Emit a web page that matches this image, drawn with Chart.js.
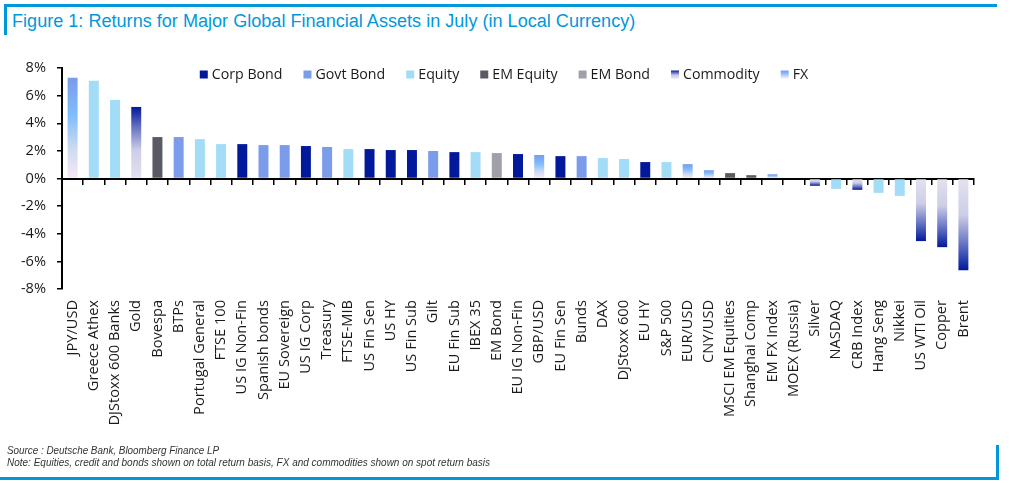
<!DOCTYPE html>
<html><head><meta charset="utf-8">
<script src="https://cdn.jsdelivr.net/npm/chart.js@4"></script>
<style>
html,body{margin:0;padding:0;background:#fff;}
#wrap{position:relative;width:1010px;height:483px;overflow:hidden;background:#fff;}
.ln{position:absolute;background:#0098DB;}
#title{position:absolute;left:12px;top:11px;font-family:"Liberation Sans Narrow","Arial Narrow","Liberation Sans",Arial,sans-serif;font-size:18px;line-height:20px;color:#0098DB;white-space:nowrap;transform-origin:0 0;}
.foot{position:absolute;left:7px;font-family:"Liberation Sans Narrow","Arial Narrow","Liberation Sans",Arial,sans-serif;font-style:italic;font-size:10px;line-height:12px;color:#333;white-space:nowrap;transform-origin:0 0;}
canvas{position:absolute;left:0;top:0;}
</style></head>
<body>
<div id="wrap">
  <div class="ln" style="left:4px;top:4px;width:993px;height:3px;"></div>
  <div class="ln" style="left:4px;top:4px;width:3px;height:31px;"></div>
  <div class="ln" style="left:0px;top:477px;width:999px;height:3px;"></div>
  <div class="ln" style="left:996px;top:445px;width:3px;height:35px;"></div>
  <div id="title">Figure 1: Returns for Major Global Financial Assets in July (in Local Currency)</div>
  <canvas id="c" width="1010" height="483"></canvas>
  <div class="foot" id="f1" style="top:445px;">Source : Deutsche Bank, Bloomberg Finance LP</div>
  <div class="foot" id="f2" style="top:457px;">Note: Equities, credit and bonds shown on total return basis, FX and commodities shown on spot return basis</div>
</div>
<script>
// ---- Data ----
const categories = ["JPY/USD","Greece Athex","DJStoxx 600 Banks","Gold","Bovespa","BTPs","Portugal General","FTSE 100","US IG Non-Fin","Spanish bonds","EU Sovereign","US IG Corp","Treasury","FTSE-MIB","US Fin Sen","US HY","US Fin Sub","Gilt","EU Fin Sub","IBEX 35","EM Bond","EU IG Non-Fin","GBP/USD","EU Fin Sen","Bunds","DAX","DJStoxx 600","EU HY","S&P 500","EUR/USD","CNY/USD","MSCI EM Equities","Shanghai Comp","EM FX Index","MOEX (Russia)","Silver","NASDAQ","CRB Index","Hang Seng","Nikkei","US WTI Oil","Copper","Brent"];
const returnsPct = [7.29,7.08,5.69,5.18,3.0,3.0,2.85,2.49,2.49,2.42,2.42,2.35,2.28,2.13,2.13,2.06,2.06,1.99,1.91,1.91,1.84,1.77,1.70,1.62,1.62,1.48,1.41,1.19,1.19,1.04,0.60,0.39,0.24,0.31,0.0,-0.53,-0.75,-0.82,-1.04,-1.26,-4.53,-4.97,-6.64];
const assetClass = ["FX","Equity","Equity","Commodity","EM Equity","Govt Bond","Equity","Equity","Corp Bond","Govt Bond","Govt Bond","Corp Bond","Govt Bond","Equity","Corp Bond","Corp Bond","Corp Bond","Govt Bond","Corp Bond","Equity","EM Bond","Corp Bond","FX","Corp Bond","Govt Bond","Equity","Equity","Corp Bond","Equity","FX","FX","EM Equity","EM Equity","FX","EM Equity","Commodity","Equity","Commodity","Equity","Equity","Commodity","Commodity","Commodity"];
const seriesNames = ["Corp Bond","Govt Bond","Equity","EM Equity","EM Bond","Commodity","FX"];
const yTickValues = [-8,-6,-4,-2,0,2,4,6,8];

// ---- Styles ----
const solidColors = {"Corp Bond":"#03199B","Govt Bond":"#7A9CEB","Equity":"#A3DCF7","EM Equity":"#5A5A65","EM Bond":"#A0A0A9"};
// gradient stops from base (0) to bar tip (1)
const gradStops = {
  "Commodity":[[0,"#E2E2F1"],[0.4,"#CDCDE7"],[0.72,"#6472C2"],[1,"#03189A"]],
  "FX":[[0,"#F8E8F8"],[0.3,"#CCDAF0"],[0.62,"#80BEFE"],[1,"#7A9BEA"]]
};
function gradFill(stops){
  return function(ctx){
    const chart = ctx.chart;
    if(!chart.chartArea || ctx.raw == null || ctx.type !== 'data') return stops[stops.length-1][1];
    const ys = chart.scales.y;
    const y0 = ys.getPixelForValue(0), y1 = ys.getPixelForValue(ctx.raw);
    if (Math.abs(y1-y0) < 0.5) return stops[stops.length-1][1];
    const g = chart.ctx.createLinearGradient(0,y0,0,y1);
    stops.forEach(s=>g.addColorStop(s[0],s[1]));
    return g;
  };
}
const FONT = '"Open Sans", "Noto Sans", sans-serif';
const FSIZE = 14.6;

const datasets = seriesNames.map(name => ({
  label: name,
  data: returnsPct.map((v,i)=> assetClass[i]===name ? v : null),
  backgroundColor: gradStops[name] ? gradFill(gradStops[name]) : solidColors[name],
  borderWidth: 0,
  barPercentage: 0.47,
  categoryPercentage: 1.0,
  xAxisID: 'x',
  yAxisID: 'y'
}));

const legendPlugin = {
  id: 'customLegend',
  afterDraw(chart){
    const c = chart.ctx;
    c.save();
    c.font = '14.2px ' + FONT;
    c.textBaseline = 'middle';
    const box = 8, gapBT = 4, gapItem = 21;
    const items = chart.data.datasets.map(d => ({label:d.label, w:c.measureText(d.label).width}));
    let total = items.reduce((s,it)=>s+box+gapBT+it.w,0) + gapItem*(items.length-1);
    let x = 504 - total/2;
    const yc = 74.5;
    items.forEach(it => {
      const top = yc - box/2;
      let fill;
      if (gradStops[it.label]) {
        const g = c.createLinearGradient(0, top+box, 0, top);
        gradStops[it.label].forEach(s=>g.addColorStop(s[0],s[1]));
        fill = g;
      } else fill = solidColors[it.label];
      c.fillStyle = fill;
      c.fillRect(x, top, box, box);
      c.fillStyle = '#1a1a1a';
      c.fillText(it.label, x + box + gapBT, yc + 0.5);
      x += box + gapBT + it.w + gapItem;
    });
    c.restore();
  }
};

function fitText(el, target){
  const w = el.scrollWidth;
  if (w > 0) el.style.transform = 'scaleX(' + (target / w) + ')';
}

function build(){
  fitText(document.getElementById('title'), 623);
  fitText(document.getElementById('f1'), 212);
  fitText(document.getElementById('f2'), 483);
  new Chart(document.getElementById('c'), {
    type: 'bar',
    data: { labels: categories, datasets },
    options: {
      responsive: false,
      devicePixelRatio: 1,
      animation: false,
      layout: { padding: { left: 0, right: 36, top: 68, bottom: 0 } },
      plugins: { legend: { display: false }, tooltip: { enabled: false } },
      scales: {
        x: {
          type: 'category', axis: 'x', position: { y: 0 }, stacked: true, offset: true,
          grid: { offset: true, drawOnChartArea: false, drawTicks: true, tickLength: 5, color: '#000', lineWidth: 1.5 },
          border: { display: true, color: '#000', width: 2 },
          ticks: { display: false }
        },
        x2: {
          type: 'category', axis: 'x', position: 'bottom', offset: true,
          grid: { display: false, drawTicks: false },
          border: { display: false },
          ticks: { autoSkip: false, maxRotation: 90, minRotation: 90, padding: 11, color: '#1a1a1a', font: { family: FONT, size: FSIZE } },
          afterFit(s){ s.height = 194; }
        },
        y: {
          stacked: true, min: -8, max: 8,
          afterBuildTicks(s){ s.ticks = yTickValues.map(v=>({value:v})); },
          ticks: { callback: v => v + '%', color: '#1a1a1a', padding: 11, font: { family: FONT, size: FSIZE } },
          grid: { drawOnChartArea: false, drawTicks: true, tickLength: 5, color: '#000', lineWidth: 1.5 },
          border: { display: true, color: '#000', width: 2 },
          afterFit(s){ s.width = 62; }
        }
      }
    },
    plugins: [legendPlugin]
  });
}
if (document.fonts && document.fonts.load) {
  Promise.all([document.fonts.load('14px "Open Sans"'), document.fonts.load('18px "Liberation Sans Narrow"')]).then(build, build);
} else build();
</script>
</body></html>
